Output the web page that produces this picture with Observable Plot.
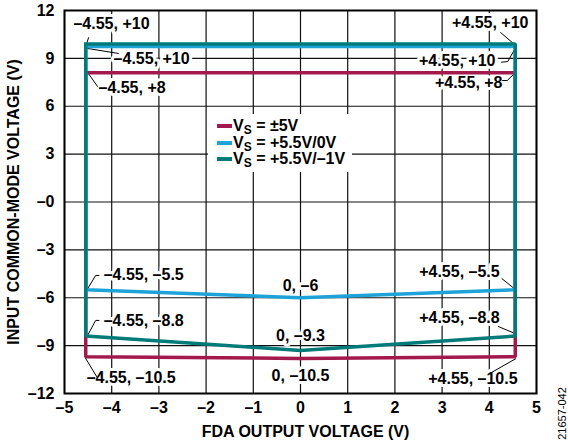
<!DOCTYPE html>
<html>
<head>
<meta charset="utf-8">
<script src="https://cdn.jsdelivr.net/npm/d3@7"></script>
<script src="https://cdn.jsdelivr.net/npm/@observablehq/plot@0.6"></script>
<style>
  html, body { margin: 0; padding: 0; background: white; }
  #wrap { position: relative; width: 568px; height: 446px; font-family: "Liberation Sans", Arial, sans-serif; }
  #legend { position: absolute; left: 208px; top: 114px; width: 144px; height: 58px; background: white; font-weight: bold; font-size: 16px; color: #000; }
  .item { position: absolute; left: 9px; height: 17px; line-height: 17px; white-space: nowrap; }
  .sw { display: inline-block; width: 15px; height: 4px; vertical-align: middle; margin-right: 1px; position: relative; top: -1px; }
  sub { font-size: 12px; vertical-align: -3px; line-height: 0; }
</style>
</head>
<body>
<div id="wrap"></div>
<script>
// Axis ticks and labels
const xTicks = [-5, -4, -3, -2, -1, 0, 1, 2, 3, 4, 5];
const xTickLabels = ["–5", "–4", "–3", "–2", "–1", "0", "1", "2", "3", "4", "5"];
const yTicks = [-12, -9, -6, -3, 0, 3, 6, 9, 12];
const yTickLabels = ["–12", "–9", "–6", "–3", "–0", "3", "6", "9", "12"];

// Series (closed boundary of each operating region)
const seriesNames = ["±5V", "+5.5V/0V", "+5.5V/–1V"];
const seriesColors = ["#A3194B", "#1EA3D9", "#007B79"];
const pathX = [-4.55, 4.55, 4.55, 0, -4.55, -4.55];
const redY = [8.1, 8.1, -9.7, -9.8, -9.7, 8.1];
const blueY = [9.75, 9.75, -5.5, -6.0, -5.5, 9.75];
const tealY = [9.9, 9.9, -8.4, -9.3, -8.4, 9.9];

// Point annotations
const labelText = ["–4.55, +10", "–4.55, +10", "–4.55, +8", "+4.55, +10", "+4.55, +10", "+4.55, +8",
  "–4.55, –5.5", "–4.55, –8.8", "–4.55, –10.5", "0, –6", "0, –9.3", "0, –10.5",
  "+4.55, –5.5", "+4.55, –8.8", "+4.55, –10.5"];
const labelX = [-4.81, -3.96, -4.28, 4.83, 4.13, 4.28, -4.17, -4.17, -4.53, 0, 0, 0, 4.22, 4.22, 4.6];
const labelY = [11.19, 8.99, 7.18, 11.25, 8.87, 7.49, -4.54, -7.42, -10.99, -5.23, -8.36, -10.87, -4.35, -7.24, -11.06];
const labelAnchor = ["start", "start", "start", "end", "end", "end", "start", "start", "start", "middle", "middle", "middle", "end", "end", "end"];

// Leader lines (each a short polyline)
const leaderX = [[-4.53, -4.49], [-4.51, -3.86], [-4.51, -4.30], [4.24, 4.56], [4.26, 4.39, 4.56], [4.28, 4.38, 4.56],
  [-4.51, -4.34, -4.27], [-4.51, -4.34, -4.27], [-4.56, -4.31], [4.27, 4.56], [4.19, 4.56], [4.06, 4.56]];
const leaderY = [[9.93, 10.3], [9.62, 9.31], [8.12, 7.24], [10.62, 9.81], [8.76, 8.80, 9.68], [7.61, 7.61, 8.13],
  [-5.44, -4.60, -4.60], [-8.36, -7.42, -7.42], [-9.76, -10.98], [-4.81, -5.5], [-7.8, -8.26], [-10.66, -9.82]];

const series = [redY, blueY, tealY].flatMap((ys, s) => ys.map((y, i) => ({s, x: pathX[i], y})));
const labels = labelText.map((t, i) => ({t, x: labelX[i], y: labelY[i], a: labelAnchor[i]}));
const leaders = leaderX.flatMap((xs, k) => xs.map((x, i) => ({k, x, y: leaderY[k][i]})));

const font = "Liberation Sans, Arial, sans-serif";
const chart = Plot.plot({
  width: 568, height: 446,
  marginLeft: 64, marginRight: 32, marginTop: 10, marginBottom: 53,
  x: {domain: [-5, 5], label: null},
  y: {domain: [-12, 12], label: null},
  style: {fontFamily: font, fontWeight: "bold", fontSize: "16px", background: "white", color: "black", overflow: "visible"},
  marks: [
    Plot.gridX(xTicks, {stroke: "#111", strokeOpacity: 1, strokeWidth: 1.2}),
    Plot.gridY(yTicks, {stroke: "#111", strokeOpacity: 1, strokeWidth: 1.2}),
    Plot.axisX(xTicks, {tickSize: 0, tickPadding: 8, tickFormat: d => xTickLabels[xTicks.indexOf(d)], fontSize: 16, fontWeight: "bold", label: null}),
    Plot.axisY(yTicks, {tickSize: 0, tickPadding: 10, tickFormat: d => yTickLabels[yTicks.indexOf(d)], fontSize: 16, fontWeight: "bold", label: null}),
    ...["start", "middle", "end"].map(a => Plot.text(labels.filter(l => l.a === a), {
      x: "x", y: "y", text: "t", textAnchor: a, fill: "black", stroke: "white", strokeWidth: 6, fontSize: 16, fontWeight: "bold"
    })),
    Plot.line(leaders, {x: "x", y: "y", z: "k", stroke: "black", strokeWidth: 1}),
    Plot.line(series, {x: "x", y: "y", z: "s", stroke: d => seriesColors[d.s], strokeWidth: 3.5, strokeLinejoin: "miter", strokeLinecap: "square", curve: "linear"}),
    Plot.frame({stroke: "black", strokeWidth: 2}),
    Plot.text(["FDA OUTPUT VOLTAGE (V)"], {frameAnchor: "bottom", lineAnchor: "middle", textAnchor: "middle", dx: 5, dy: 38, fontSize: 16, fontWeight: "bold"}),
    Plot.text(["INPUT COMMON-MODE VOLTAGE (V)"], {frameAnchor: "left", textAnchor: "middle", lineAnchor: "middle", dx: -51, rotate: -90, fontSize: 16, fontWeight: "bold"}),
    Plot.text(["21657-042"], {frameAnchor: "bottom-right", textAnchor: "middle", lineAnchor: "middle", dx: 26, dy: 20, rotate: -90, fontSize: 11, fontWeight: "normal"})
  ]
});
const wrap = document.getElementById("wrap");
wrap.appendChild(chart);

// Legend overlay
const legend = document.createElement("div");
legend.id = "legend";
const tops = [3, 20, 36];
seriesNames.forEach((n, i) => {
  const item = document.createElement("div");
  item.className = "item";
  item.style.top = tops[i] + "px";
  item.innerHTML = `<span class="sw" style="background:${seriesColors[i]}"></span>V<sub>S</sub> = ${n}`;
  legend.appendChild(item);
});
wrap.appendChild(legend);
</script>
</body>
</html>
